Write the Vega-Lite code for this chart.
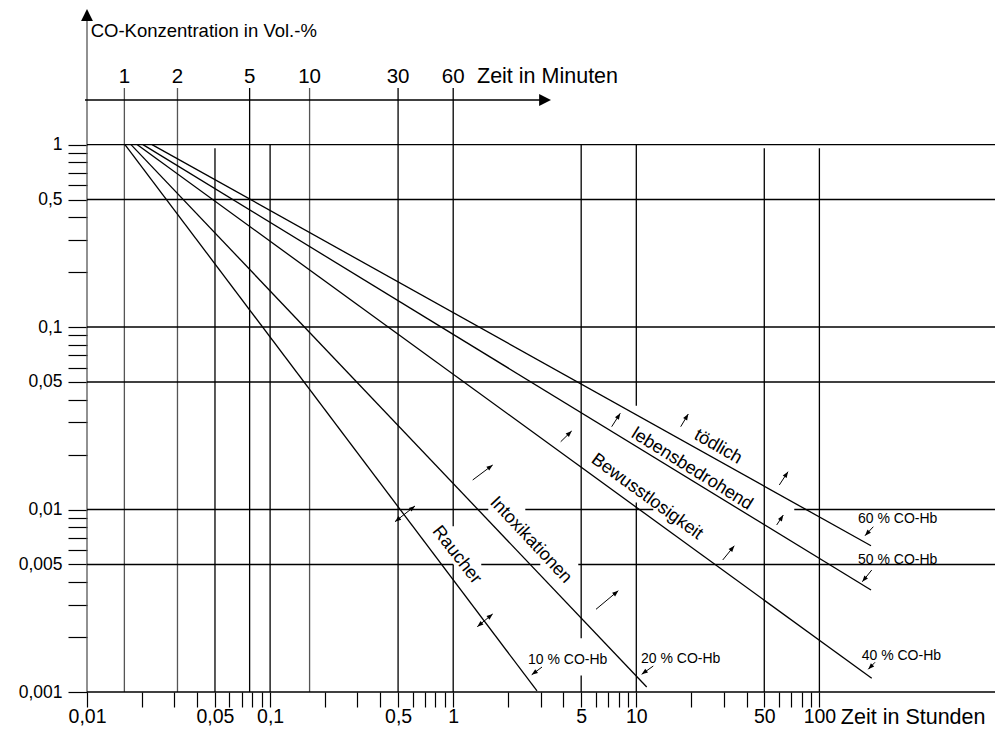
{
  "$schema": "https://vega.github.io/schema/vega-lite/v6.json",
  "width": 908,
  "height": 692,
  "autosize": "none",
  "padding": {"left": 87, "top": 0, "right": 0, "bottom": 42},
  "background": "white",
  "config": {"view": {"stroke": null}, "font": "Liberation Sans"},
  "datasets": {
    "vlines": [
      {"t": 0.01, "c1": 0.001, "c2": 4.756, "kind": "axis"},
      {"t": 0.016, "c1": 0.001, "c2": 2.04, "kind": "min"},
      {"t": 0.0312, "c1": 0.001, "c2": 2.04, "kind": "min"},
      {"t": 0.0773, "c1": 0.001, "c2": 2.04, "kind": "h"},
      {"t": 0.1643, "c1": 0.001, "c2": 2.04, "kind": "min"},
      {"t": 0.5, "c1": 0.001, "c2": 2.04, "kind": "h"},
      {"t": 1, "c1": 0.00809, "c2": 2.04, "kind": "h"},
      {"t": 1, "c1": 0.001, "c2": 0.005, "kind": "h"},
      {"t": 0.05, "c1": 0.001, "c2": 0.954, "kind": "h"},
      {"t": 0.1, "c1": 0.001, "c2": 1, "kind": "h"},
      {"t": 5, "c1": 0.00197, "c2": 1, "kind": "h"},
      {"t": 5, "c1": 0.001, "c2": 0.00123, "kind": "h"},
      {"t": 10, "c1": 0.0371, "c2": 1, "kind": "h"},
      {"t": 10, "c1": 0.001, "c2": 0.01094, "kind": "h"},
      {"t": 50, "c1": 0.001, "c2": 0.954, "kind": "h"},
      {"t": 100, "c1": 0.001, "c2": 0.954, "kind": "h"}
    ],
    "hlines": [
      {"c": 1.755, "t1": 0.00975, "t2": 3.0},
      {"c": 1, "t1": 0.01, "t2": 910},
      {"c": 0.5, "t1": 0.01, "t2": 910},
      {"c": 0.1, "t1": 0.01, "t2": 910},
      {"c": 0.05, "t1": 0.01, "t2": 910},
      {"c": 0.01, "t1": 0.01, "t2": 1.555},
      {"c": 0.01, "t1": 2.476, "t2": 12.38},
      {"c": 0.01, "t1": 72.9, "t2": 910},
      {"c": 0.005, "t1": 0.01, "t2": 1},
      {"c": 0.005, "t1": 1.423, "t2": 2.99},
      {"c": 0.005, "t1": 4.82, "t2": 910},
      {"c": 0.001, "t1": 0.01, "t2": 910}
    ],
    "curves": [
      {"hb": "10 %", "t": 0.01612, "c": 1},
      {"hb": "10 %", "t": 2.869, "c": 0.001013},
      {"hb": "20 %", "t": 0.01739, "c": 1},
      {"hb": "20 %", "t": 11.4, "c": 0.001065},
      {"hb": "40 %", "t": 0.01876, "c": 1},
      {"hb": "40 %", "t": 193.1, "c": 0.001189},
      {"hb": "50 %", "t": 0.02022, "c": 1},
      {"hb": "50 %", "t": 191.4, "c": 0.003622},
      {"hb": "60 %", "t": 0.02265, "c": 1},
      {"hb": "60 %", "t": 191.4, "c": 0.00633}
    ],
    "arrows": [
      {"t1": 0.481, "c1": 0.00858, "t2": 0.6185, "c2": 0.01046},
      {"t1": 1.354, "c1": 0.00228, "t2": 1.643, "c2": 0.002677},
      {"t1": 1.278, "c1": 0.01452, "t2": 1.643, "c2": 0.01754},
      {"t1": 3.865, "c1": 0.02353, "t2": 4.438, "c2": 0.02694},
      {"t1": 7.339, "c1": 0.02844, "t2": 8.176, "c2": 0.03369},
      {"t1": 17.48, "c1": 0.02844, "t2": 19.23, "c2": 0.03339},
      {"t1": 60.4, "c1": 0.01363, "t2": 67.4, "c2": 0.01612},
      {"t1": 58.45, "c1": 0.00823, "t2": 63.5, "c2": 0.00933},
      {"t1": 29.65, "c1": 0.00529, "t2": 34.29, "c2": 0.00633},
      {"t1": 6.025, "c1": 0.00284, "t2": 7.974, "c2": 0.00359},
      {"t1": 197, "c1": 0.00805, "t2": 177.5, "c2": 0.00719},
      {"t1": 193.1, "c1": 0.00466, "t2": 171.5, "c2": 0.00402},
      {"t1": 201.2, "c1": 0.001455, "t2": 184.9, "c2": 0.001332},
      {"t1": 12.38, "c1": 0.001388, "t2": 10.7, "c2": 0.00125},
      {"t1": 3.055, "c1": 0.00137, "t2": 2.684, "c2": 0.001243}
    ],
    "heads": [
      {"t": 0.6185, "c": 0.01046, "dir": 52},
      {"t": 0.481, "c": 0.00858, "dir": 232},
      {"t": 1.643, "c": 0.002677, "dir": 50},
      {"t": 1.354, "c": 0.00228, "dir": 230},
      {"t": 1.643, "c": 0.01754, "dir": 53},
      {"t": 4.438, "c": 0.02694, "dir": 46},
      {"t": 8.176, "c": 0.03369, "dir": 33},
      {"t": 19.23, "c": 0.03339, "dir": 31},
      {"t": 67.4, "c": 0.01612, "dir": 33},
      {"t": 63.5, "c": 0.00933, "dir": 33},
      {"t": 34.29, "c": 0.00633, "dir": 39},
      {"t": 7.974, "c": 0.00359, "dir": 50},
      {"t": 177.5, "c": 0.00719, "dir": 223},
      {"t": 171.5, "c": 0.00402, "dir": 219},
      {"t": 184.9, "c": 0.001332, "dir": 224},
      {"t": 10.7, "c": 0.00125, "dir": 234},
      {"t": 2.684, "c": 0.001243, "dir": 233}
    ],
    "axisheads": [
      {"t": 0.01, "c": 5.53, "dir": 0},
      {"t": 3.42, "c": 1.755, "dir": 90}
    ],
    "minutes": [
      {"t": 0.016, "c": 2.346, "label": "1"},
      {"t": 0.0312, "c": 2.346, "label": "2"},
      {"t": 0.0773, "c": 2.346, "label": "5"},
      {"t": 0.1643, "c": 2.346, "label": "10"},
      {"t": 0.5, "c": 2.346, "label": "30"},
      {"t": 1, "c": 2.346, "label": "60"}
    ],
    "zones": [
      {"name": "Raucher", "t": 1.045, "c": 0.00563},
      {"name": "Intoxikationen", "t": 2.651, "c": 0.0068},
      {"name": "Bewusstlosigkeit", "t": 11.44, "c": 0.01175},
      {"name": "lebensbedrohend", "t": 20.15, "c": 0.01663},
      {"name": "tödlich", "t": 27.94, "c": 0.02202}
    ],
    "hblabels": [
      {"t": 2.562, "c": 0.001497, "label": "10 % CO-Hb"},
      {"t": 10.61, "c": 0.001517, "label": "20 % CO-Hb"},
      {"t": 170.2, "c": 0.001575, "label": "40 % CO-Hb"},
      {"t": 162.5, "c": 0.00529, "label": "50 % CO-Hb"},
      {"t": 162.5, "c": 0.00887, "label": "60 % CO-Hb"}
    ],
    "titles": [
      {"t": 0.01047, "c": 4.194, "label": "CO-Konzentration in Vol.-%"}
    ],
    "timetitles": [
      {"t": 1.349, "c": 2.346, "label": "Zeit in Minuten"},
      {"t": 131, "c": 0.00072, "label": "Zeit in Stunden"}
    ]
  },
  "layer": [
    {
      "data": {"name": "vlines"},
      "mark": {"type": "rule", "strokeWidth": 1.3},
      "encoding": {
        "x": {
          "field": "t", "type": "quantitative",
          "scale": {"type": "log", "domain": [0.01, 910], "nice": false, "zero": false},
          "axis": {
            "values": [0.01,0.02,0.03,0.04,0.05,0.06,0.07,0.08,0.09,0.1,0.2,0.3,0.4,0.5,0.6,0.7,0.8,0.9,1,2,3,4,5,6,7,8,9,10,20,30,40,50,60,70,80,90,100],
            "labelExpr": "indexof([0.01,0.05,0.1,0.5,1,5,10,50,100], datum.value) >= 0 ? replace(format(datum.value, '~g'), '.', ',') : ''",
            "domain": false, "grid": false, "tickSize": 15, "tickColor": "black", "tickWidth": 1.2,
            "labelFont": "Liberation Sans", "labelFontSize": 19.5, "labelColor": "black",
            "labelPadding": 0, "labelOverlap": false, "labelFlush": false, "labelBound": false, "title": null
          }
        },
        "y": {
          "field": "c1", "type": "quantitative",
          "scale": {"type": "log", "domain": [0.001, 6.2], "nice": false, "zero": false},
          "axis": {
            "values": [1,0.9,0.8,0.7,0.6,0.5,0.4,0.3,0.2,0.1,0.09,0.08,0.07,0.06,0.05,0.04,0.03,0.02,0.01,0.009,0.008,0.007,0.006,0.005,0.004,0.003,0.002,0.001],
            "labelExpr": "indexof([1,0.5,0.1,0.05,0.01,0.005,0.001], datum.value) >= 0 ? replace(format(datum.value, '~g'), '.', ',') : ''",
            "domain": false, "grid": false, "tickSize": 19, "tickColor": "black", "tickWidth": 1.2,
            "labelFont": "Liberation Sans", "labelFontSize": 17.5, "labelColor": "black",
            "labelPadding": 6, "labelOverlap": false, "labelFlush": false, "labelBound": false, "title": null
          }
        },
        "y2": {"field": "c2"},
        "color": {
          "field": "kind", "type": "nominal",
          "scale": {"domain": ["axis", "min", "h"], "range": ["#555555", "#555555", "#000000"]},
          "legend": null
        }
      }
    },
    {
      "data": {"name": "hlines"},
      "mark": {"type": "rule", "strokeWidth": 1.4, "color": "black"},
      "encoding": {
        "y": {"field": "c", "type": "quantitative"},
        "x": {"field": "t1", "type": "quantitative"},
        "x2": {"field": "t2"}
      }
    },
    {
      "data": {"name": "curves"},
      "mark": {"type": "line", "strokeWidth": 1.3, "color": "black"},
      "encoding": {
        "x": {"field": "t", "type": "quantitative"},
        "y": {"field": "c", "type": "quantitative"},
        "detail": {"field": "hb", "type": "nominal"}
      }
    },
    {
      "data": {"name": "arrows"},
      "mark": {"type": "rule", "strokeWidth": 1, "color": "black"},
      "encoding": {
        "x": {"field": "t1", "type": "quantitative"},
        "y": {"field": "c1", "type": "quantitative"},
        "x2": {"field": "t2"},
        "y2": {"field": "c2"}
      }
    },
    {
      "data": {"name": "heads"},
      "mark": {"type": "point", "shape": "M0,0L-0.38,1L0.38,1Z", "filled": true, "color": "black", "opacity": 1, "size": 150},
      "encoding": {
        "x": {"field": "t", "type": "quantitative"},
        "y": {"field": "c", "type": "quantitative"},
        "angle": {"field": "dir", "type": "quantitative", "scale": null}
      }
    },
    {
      "data": {"name": "axisheads"},
      "mark": {"type": "point", "shape": "M0,0L-0.5,1L0.5,1Z", "filled": true, "color": "black", "opacity": 1, "size": 560},
      "encoding": {
        "x": {"field": "t", "type": "quantitative"},
        "y": {"field": "c", "type": "quantitative"},
        "angle": {"field": "dir", "type": "quantitative", "scale": null}
      }
    },
    {
      "data": {"name": "minutes"},
      "mark": {"type": "text", "font": "Liberation Sans", "fontSize": 20.5, "color": "black", "align": "center", "baseline": "middle"},
      "encoding": {
        "x": {"field": "t", "type": "quantitative"},
        "y": {"field": "c", "type": "quantitative"},
        "text": {"field": "label"}
      }
    },
    {
      "data": {"name": "titles"},
      "mark": {"type": "text", "font": "Liberation Sans", "fontSize": 18.5, "color": "black", "align": "left", "baseline": "middle"},
      "encoding": {
        "x": {"field": "t", "type": "quantitative"},
        "y": {"field": "c", "type": "quantitative"},
        "text": {"field": "label"}
      }
    },
    {
      "data": {"name": "timetitles"},
      "mark": {"type": "text", "font": "Liberation Sans", "fontSize": 21.5, "color": "black", "align": "left", "baseline": "middle"},
      "encoding": {
        "x": {"field": "t", "type": "quantitative"},
        "y": {"field": "c", "type": "quantitative"},
        "text": {"field": "label"}
      }
    },
    {
      "data": {"name": "hblabels"},
      "mark": {"type": "text", "font": "Liberation Sans", "fontSize": 14, "color": "black", "align": "left", "baseline": "middle"},
      "encoding": {
        "x": {"field": "t", "type": "quantitative"},
        "y": {"field": "c", "type": "quantitative"},
        "text": {"field": "label"}
      }
    },
    {
      "data": {"name": "zones"},
      "transform": [{"filter": "datum.name == 'Raucher'"}],
      "mark": {"type": "text", "font": "Liberation Sans", "fontSize": 18, "color": "black", "align": "center", "baseline": "middle", "angle": 52},
      "encoding": {
        "x": {"field": "t", "type": "quantitative"},
        "y": {"field": "c", "type": "quantitative"},
        "text": {"field": "name"}
      }
    },
    {
      "data": {"name": "zones"},
      "transform": [{"filter": "datum.name == 'Intoxikationen'"}],
      "mark": {"type": "text", "font": "Liberation Sans", "fontSize": 18, "color": "black", "align": "center", "baseline": "middle", "angle": 47},
      "encoding": {
        "x": {"field": "t", "type": "quantitative"},
        "y": {"field": "c", "type": "quantitative"},
        "text": {"field": "name"}
      }
    },
    {
      "data": {"name": "zones"},
      "transform": [{"filter": "datum.name == 'Bewusstlosigkeit'"}],
      "mark": {"type": "text", "font": "Liberation Sans", "fontSize": 18, "color": "black", "align": "center", "baseline": "middle", "angle": 36},
      "encoding": {
        "x": {"field": "t", "type": "quantitative"},
        "y": {"field": "c", "type": "quantitative"},
        "text": {"field": "name"}
      }
    },
    {
      "data": {"name": "zones"},
      "transform": [{"filter": "datum.name == 'lebensbedrohend'"}],
      "mark": {"type": "text", "font": "Liberation Sans", "fontSize": 18, "color": "black", "align": "center", "baseline": "middle", "angle": 32},
      "encoding": {
        "x": {"field": "t", "type": "quantitative"},
        "y": {"field": "c", "type": "quantitative"},
        "text": {"field": "name"}
      }
    },
    {
      "data": {"name": "zones"},
      "transform": [{"filter": "datum.name == 'tödlich'"}],
      "mark": {"type": "text", "font": "Liberation Sans", "fontSize": 18, "color": "black", "align": "center", "baseline": "middle", "angle": 30},
      "encoding": {
        "x": {"field": "t", "type": "quantitative"},
        "y": {"field": "c", "type": "quantitative"},
        "text": {"field": "name"}
      }
    }
  ]
}
